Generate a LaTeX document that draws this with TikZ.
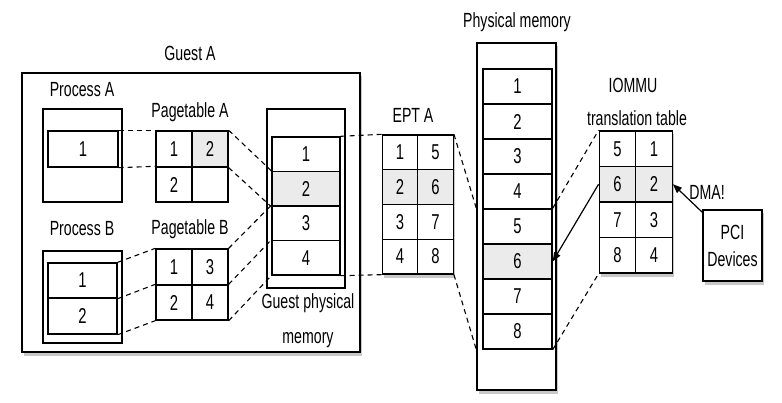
\documentclass[tikz,border=0pt]{standalone}
\usepackage{fontspec}
\setmainfont{Liberation Sans}[FakeStretch=0.69]
\usetikzlibrary{arrows.meta,calc}
\definecolor{shade}{HTML}{EBEBEB}
\definecolor{shadowc}{HTML}{9A9A9A}
\tikzset{
  lbl/.style={font=\fontsize{20.5}{23}\selectfont, inner sep=0pt},
  cell/.style={draw, line width=1.4pt, inner sep=0pt, font=\fontsize{21.5}{24}\selectfont, minimum width=#1},
  cell/.default=36pt,
  outerbox/.style={draw, line width=1.4pt, inner sep=0pt},
  hl/.style={fill=shade},
  link/.style={line width=1.1pt, dash pattern=on 5pt off 4pt},
  arr/.style={line width=1.2pt, -{Triangle[length=9pt,width=7pt]}},
  shadowbox/.style={fill=shadowc, opacity=0.55},
}
\begin{document}
\begin{tikzpicture}[x=1pt,y=-1pt]
\useasboundingbox (0,0) rectangle (782,403);

% ---------- Guest A ----------
\fill[shadowbox] (24,76) rectangle (362,356);
\node[outerbox, fill=white, minimum width=338pt, minimum height=279pt] (guest) at (191,212.5) {};
\node[lbl] (guestlbl) at (190,53) {Guest A};

% Process A
\node[lbl] (palbl) at (82,90) {Process A};
\node[outerbox, minimum width=79pt, minimum height=93pt] (pa) at (82.5,155.5) {};
\node[cell=70pt, minimum height=36pt] (pa1) at (83,149) {1};

% Pagetable A
\node[lbl] (ptalbl) at (190,112) {Pagetable A};
\node[cell, minimum height=36pt] (pta11) at (174,149) {1};
\node[cell, minimum height=36pt, hl] (pta12) at (210,149) {2};
\node[cell, minimum height=35pt] (pta21) at (174,184.5) {2};
\node[cell, minimum height=35pt] (pta22) at (210,184.5) {};

% Process B
\node[lbl] (pblbl) at (82,229) {Process B};
\node[outerbox, minimum width=79pt, minimum height=92pt] (pb) at (82.5,297) {};
\node[cell=69pt, minimum height=35pt] (pb1) at (82.5,280.5) {1};
\node[cell=69pt, minimum height=36pt] (pb2) at (82.5,316) {2};

% Pagetable B
\node[lbl] (ptblbl) at (190,229) {Pagetable B};
\node[cell, minimum height=36pt] (ptb11) at (174,267) {1};
\node[cell, minimum height=36pt] (ptb12) at (210,267) {3};
\node[cell, minimum height=35pt] (ptb21) at (174,302.5) {2};
\node[cell, minimum height=35pt] (ptb22) at (210,302.5) {4};

% Guest physical memory
\node[outerbox, minimum width=78pt, minimum height=179pt] (gpm) at (306,198.5) {};
\node[cell=68pt, minimum height=34.5pt] (gpm1) at (306,154.25) {1};
\node[cell=68pt, minimum height=34.5pt, hl] (gpm2) at (306,188.75) {2};
\node[cell=68pt, minimum height=34.5pt] (gpm3) at (306,223.25) {3};
\node[cell=68pt, minimum height=34.5pt] (gpm4) at (306,257.75) {4};
\node[lbl] (gpmlbl1) at (308,303) {Guest physical};
\node[lbl] (gpmlbl2) at (308,340) {memory};

% ---------- EPT A ----------
\node[lbl] (eptlbl) at (413,115) {EPT A};
\fill[shadowbox] (384,138) rectangle (455,278);
\node[cell=35.5pt, minimum height=34.75pt, fill=white] (ept11) at (400,152.4) {1};
\node[cell=35.5pt, minimum height=34.75pt, fill=white] (ept12) at (435.5,152.4) {5};
\node[cell=35.5pt, minimum height=34.75pt, hl] (ept21) at (400,187.1) {2};
\node[cell=35.5pt, minimum height=34.75pt, hl] (ept22) at (435.5,187.1) {6};
\node[cell=35.5pt, minimum height=34.75pt, fill=white] (ept31) at (400,221.9) {3};
\node[cell=35.5pt, minimum height=34.75pt, fill=white] (ept32) at (435.5,221.9) {7};
\node[cell=35.5pt, minimum height=34.75pt, fill=white] (ept41) at (400,256.6) {4};
\node[cell=35.5pt, minimum height=34.75pt, fill=white] (ept42) at (435.5,256.6) {8};

% ---------- Physical memory ----------
\node[lbl] (pmlbl) at (517,22) {Physical memory};
\fill[shadowbox] (479,46) rectangle (558,394);
\node[outerbox, fill=white, minimum width=79pt, minimum height=347pt] (pm) at (516.5,216.5) {};
\foreach \i [evaluate=\i as \yy using 69+35*(\i-1)+17.5] in {1,...,8} {
  \node[cell=69pt, minimum height=35pt] (pm\i) at (517.5,\yy) {\i};
}
\node[cell=69pt, minimum height=35pt, hl] at (pm6) {6};

% ---------- IOMMU ----------
\node[lbl] (iolbl1) at (633,85) {IOMMU};
\node[lbl] (iolbl2) at (637,118) {translation table};
\fill[shadowbox] (601,134) rectangle (674,277);
\node[cell=36.5pt, minimum height=35.5pt, fill=white] (io11) at (617.5,148.75) {5};
\node[cell=36.5pt, minimum height=35.5pt, fill=white] (io12) at (654,148.75) {1};
\node[cell=36.5pt, minimum height=35.5pt, hl] (io21) at (617.5,184.25) {6};
\node[cell=36.5pt, minimum height=35.5pt, hl] (io22) at (654,184.25) {2};
\node[cell=36.5pt, minimum height=35.5pt, fill=white] (io31) at (617.5,219.75) {7};
\node[cell=36.5pt, minimum height=35.5pt, fill=white] (io32) at (654,219.75) {3};
\node[cell=36.5pt, minimum height=35.5pt, fill=white] (io41) at (617.5,255.25) {8};
\node[cell=36.5pt, minimum height=35.5pt, fill=white] (io42) at (654,255.25) {4};

% ---------- PCI devices ----------
\fill[shadowbox] (705,213) rectangle (764,285);
\node[outerbox, fill=white, minimum width=59pt, minimum height=71pt, align=center,
      font=\fontsize{20.5}{27}\selectfont] (pci) at (732.5,245.5) {PCI\\Devices};
\node[lbl] (dmalbl) at (707,192) {DMA!};

% ---------- connectors ----------
\draw[link] (pa1.north east) -- (pta11.north west);
\draw[link] (pa1.south east) -- (pta21.north west);
\draw[link] (pta12.north east) -- (gpm2.north west);
\draw[link] (pta12.south east) -- (gpm2.south west);
\draw[link] (pb1.north east) -- (ptb11.north west);
\draw[link] (pb1.south east) -- (ptb21.north west);
\draw[link] (pb2.south east) -- (ptb21.south west);
\draw[link] (ptb12.north east) -- (gpm3.north west);
\draw[link] (ptb22.north east) -- (gpm4.north west);
\draw[link] (ptb22.south east) -- (gpm4.south west);
\draw[link] (gpm1.north east) -- (ept11.north west);
\draw[link] (gpm4.south east) -- (ept41.south west);
\draw[link] (ept12.north east) -- (pm.west |- pm5.north);
\draw[link] (ept42.south east) -- (pm.west |- pm8.south);
\draw[link] (pm5.north east) -- (io11.north west);
\draw[link] (pm8.south east) -- (io41.south west);
\draw[arr] (io21.west) -- (pm6.east);
\draw[arr] ($(pci.north west)+(0,3)$) -- (io22.east);
\end{tikzpicture}
\end{document}
